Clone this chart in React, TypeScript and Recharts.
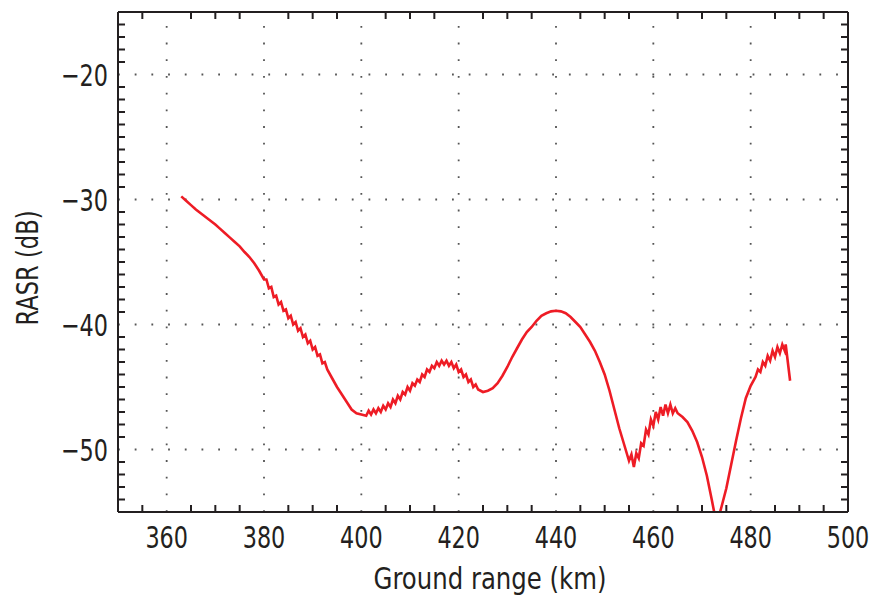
import React from "react"
import { LineChart, Line, XAxis, YAxis, ReferenceLine } from "recharts"

// ground range (km) and RASR (dB)
const rangeKm = [
  363, 364, 365, 366, 367, 368, 369, 370, 371, 372, 373, 374, 375, 376, 377, 378, 379,
  380, 380.5, 381, 381.5, 382, 382.5, 383, 383.5, 384, 384.5, 385, 385.5, 386, 386.5,
  387, 387.5, 388, 388.5, 389, 389.5, 390, 390.5, 391, 391.5, 392, 392.5, 393, 394,
  395, 396, 397, 398, 399, 400,
  401, 401.5, 402, 402.5, 403, 403.5, 404, 404.5, 405, 405.5, 406, 406.5, 407, 407.5,
  408, 408.5, 409, 409.5, 410, 410.5, 411, 411.5, 412, 412.5, 413, 413.5, 414, 414.5,
  415, 415.5, 416, 416.5, 417, 417.5, 418, 418.5, 419, 419.5, 420, 420.5, 421, 421.5,
  422, 422.5, 423, 423.5, 424, 425, 426, 427, 428, 429, 430, 431, 432, 433, 434, 435,
  436, 437, 438, 439, 440, 441, 442, 443, 444, 445, 446, 447, 448, 449, 450, 451, 452,
  453, 454, 455, 455.5, 456, 456.5, 457, 457.5, 458, 458.5, 459, 459.5, 460, 460.5,
  461, 461.5, 462, 462.5, 463, 463.5, 464, 464.5, 465, 466, 467, 468, 469, 470, 471,
  472, 473, 474, 475, 476, 477, 478, 479, 480, 481, 481.5, 482, 482.5, 483, 483.5, 484,
  484.5, 485, 485.5, 486, 486.5, 487, 487.2, 488.1,
]

const rasrDb = [
  -29.75, -30.1, -30.45, -30.8, -31.1, -31.4, -31.7, -32.0, -32.35, -32.7, -33.05, -33.4, -33.75, -34.2, -34.6, -35.1, -35.7,
  -36.4, -36.4, -37.1, -37.0, -37.8, -37.7, -38.4, -38.2, -38.9, -38.8, -39.5, -39.3, -40.0, -39.8,
  -40.5, -40.3, -41.0, -40.8, -41.5, -41.3, -42.0, -41.8, -42.5, -42.4, -43.1, -43.0, -43.6, -44.3,
  -45.0, -45.6, -46.2, -46.8, -47.1, -47.2,
  -47.3, -46.9, -47.2, -46.8, -47.1, -46.7, -47.0, -46.5, -46.8, -46.3, -46.6, -46.0, -46.3, -45.7,
  -46.0, -45.4, -45.6, -45.0, -45.3, -44.7, -44.9, -44.4, -44.6, -44.0, -44.2, -43.6, -43.8, -43.3,
  -43.5, -43.0, -43.3, -42.9, -43.2, -42.9, -43.3, -43.0, -43.5, -43.2, -43.8, -43.6, -44.2, -44.0,
  -44.6, -44.4, -45.0, -44.8, -45.2, -45.4, -45.3, -45.1, -44.7, -44.1, -43.4, -42.6, -41.9, -41.2, -40.6, -40.2,
  -39.7, -39.3, -39.1, -38.95, -38.9, -38.95, -39.1, -39.4, -39.8, -40.2, -40.8, -41.4, -42.1, -43.0, -44.0, -45.3, -46.8,
  -48.3, -49.6, -50.9, -50.4, -51.4, -50.3, -50.7, -49.5, -49.7, -48.4, -48.8, -47.6, -48.1, -47.0,
  -47.6, -46.6, -47.3, -46.4, -47.1, -46.4, -47.1, -46.7, -47.1, -47.4, -47.8, -48.5, -49.4, -50.6, -52.1,
  -54.0, -56.0, -54.6, -53.1, -51.2, -49.3, -47.5, -45.9, -44.9, -44.2, -43.6, -43.8, -43.0, -43.3, -42.5, -42.9,
  -42.1, -42.6, -41.8, -42.3, -41.6, -42.1, -41.6, -44.5,
]

const xLabels = [360, 380, 400, 420, 440, 460, 480, 500]
const xTicks = [
  355, 360, 365, 370, 375, 380, 385, 390, 395, 400, 405, 410, 415, 420, 425, 430, 435,
  440, 445, 450, 455, 460, 465, 470, 475, 480, 485, 490, 495, 500,
]
const xGrid = [360, 380, 400, 420, 440, 460, 480]

const yLabels = [-20, -30, -40, -50]
const yTicks = [
  -54, -53, -52, -51, -50, -49, -48, -47, -46, -45, -44, -43, -42, -41, -40, -39, -38,
  -37, -36, -35, -34, -33, -32, -31, -30, -29, -28, -27, -26, -25, -24, -23, -22, -21,
  -20, -19, -18, -17, -16,
]

const data = rangeKm.map((r, i) => ({ range: r, rasr: rasrDb[i] }))

const FONT = "'DejaVu Sans Condensed', 'DejaVu Sans', sans-serif"
const INK = "#231f20"
const TICK = 7

const BottomTick = (props: any) => {
  const { x, y, payload } = props
  if (xLabels.includes(payload.value)) {
    return (
      <text
        transform={`translate(${x}, ${y + 36}) scale(0.8, 1)`}
        textAnchor="middle"
        fontSize={31}
        fontFamily={FONT}
        fill={INK}
      >
        {payload.value}
      </text>
    )
  }
  return <line x1={x} y1={y} x2={x} y2={y - TICK} stroke={INK} strokeWidth={2} />
}

const TopTick = (props: any) => {
  const { x, y, payload } = props
  if (xLabels.includes(payload.value)) return <g />
  return <line x1={x} y1={y} x2={x} y2={y + TICK} stroke={INK} strokeWidth={2} />
}

const LeftTick = (props: any) => {
  const { x, y, payload } = props
  if (yLabels.includes(payload.value)) {
    return (
      <text
        transform={`translate(${x - 10}, ${y + 11}) scale(0.8, 1)`}
        textAnchor="end"
        fontSize={31}
        fontFamily={FONT}
        fill={INK}
      >
        {"\u2212" + Math.abs(payload.value)}
      </text>
    )
  }
  return <line x1={x} y1={y} x2={x + TICK} y2={y} stroke={INK} strokeWidth={2} />
}

const RightTick = (props: any) => {
  const { x, y, payload } = props
  if (yLabels.includes(payload.value)) return <g />
  return <line x1={x} y1={y} x2={x - TICK} y2={y} stroke={INK} strokeWidth={2} />
}

export default function App() {
  return (
    <div style={{ position: "absolute", left: 0, top: 0, background: "#fff" }}>
      <LineChart width={872} height={596} data={data} margin={{ top: 11, right: 23, bottom: 0, left: 0 }}>
        <XAxis
          dataKey="range"
          type="number"
          domain={[350, 500]}
          ticks={xTicks}
          interval={0}
          allowDataOverflow
          height={84}
          tickSize={0}
          tickMargin={0}
          tickLine={false}
          tick={<BottomTick />}
          axisLine={{ stroke: INK, strokeWidth: 2 }}
          label={{
            content: (p: any) => (
              <text
                transform={`translate(${p.viewBox.x + p.viewBox.width / 2 + 7}, ${p.viewBox.y + 77}) scale(0.875, 1)`}
                textAnchor="middle"
                fontSize={31}
                fontFamily={FONT}
                fill={INK}
              >
                Ground range (km)
              </text>
            ),
          }}
        />
        <XAxis
          xAxisId="top"
          orientation="top"
          dataKey="range"
          type="number"
          domain={[350, 500]}
          ticks={xTicks}
          interval={0}
          allowDataOverflow
          height={1}
          tickSize={0}
          tickMargin={0}
          tickLine={false}
          tick={<TopTick />}
          axisLine={{ stroke: INK, strokeWidth: 2 }}
        />
        <YAxis
          type="number"
          domain={[-55, -15]}
          ticks={yTicks}
          interval={0}
          allowDataOverflow
          width={118}
          tickSize={0}
          tickMargin={0}
          tickLine={false}
          tick={<LeftTick />}
          axisLine={{ stroke: INK, strokeWidth: 2 }}
          label={{
            content: (p: any) => (
              <text
                transform={`translate(38, ${p.viewBox.y + p.viewBox.height / 2 + 6}) rotate(-90) scale(0.84, 1)`}
                textAnchor="middle"
                fontSize={30}
                fontFamily={FONT}
                fill={INK}
              >
                RASR (dB)
              </text>
            ),
          }}
        />
        <YAxis
          yAxisId="right"
          orientation="right"
          type="number"
          domain={[-55, -15]}
          ticks={yTicks}
          interval={0}
          allowDataOverflow
          width={1}
          tickSize={0}
          tickMargin={0}
          tickLine={false}
          tick={<RightTick />}
          axisLine={{ stroke: INK, strokeWidth: 2 }}
        />
        {xGrid.map((v) => (
          <ReferenceLine key={"gx" + v} x={v} stroke="#555" strokeWidth={1.8} strokeDasharray="1.8 14.9" />
        ))}
        {yLabels.map((v) => (
          <ReferenceLine key={"gy" + v} y={v} stroke="#555" strokeWidth={1.8} strokeDasharray="1.8 14.9" />
        ))}
        <Line
          dataKey="rasr"
          xAxisId="top"
          yAxisId="right"
          stroke="none"
          dot={false}
          activeDot={false}
          isAnimationActive={false}
        />
        <Line
          dataKey="rasr"
          type="linear"
          stroke="#ee1c25"
          strokeWidth={2.6}
          dot={false}
          isAnimationActive={false}
        />
      </LineChart>
    </div>
  )
}
